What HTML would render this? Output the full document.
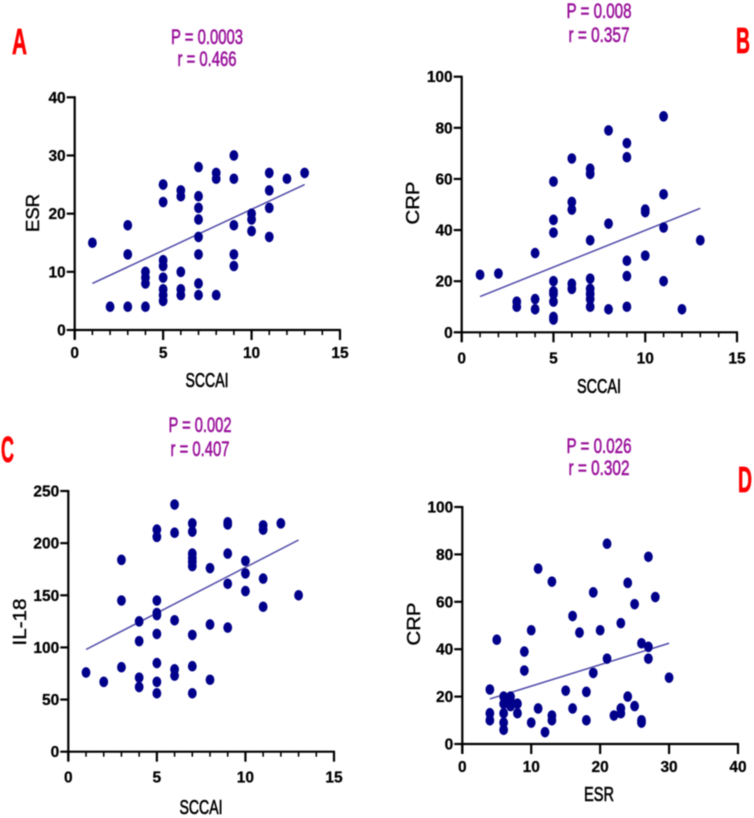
<!DOCTYPE html>
<html lang="en">
<head>
<meta charset="utf-8">
<title>Correlation scatter plots</title>
<style>
html,body{margin:0;padding:0;background:#fff;}
svg{display:block;font-family:"Liberation Sans",sans-serif;}
</style>
</head>
<body>
<svg id="figure" width="754" height="818" viewBox="0 0 754 818" xmlns="http://www.w3.org/2000/svg">
<defs><filter id="soft" x="-2%" y="-2%" width="104%" height="104%"><feGaussianBlur stdDeviation="0.4"/></filter></defs>
<g id="root" filter="url(#soft)">
<g font-weight="bold" font-size="36" fill="#ff0000" stroke="#ff0000" stroke-width="0.7">
<text x="12" y="54" textLength="15" lengthAdjust="spacingAndGlyphs">A</text>
<text x="736" y="53" textLength="14" lengthAdjust="spacingAndGlyphs">B</text>
<text x="1" y="462" textLength="13" lengthAdjust="spacingAndGlyphs">C</text>
<text x="738" y="492" textLength="14" lengthAdjust="spacingAndGlyphs">D</text>
</g>
<g font-size="21" fill="#98109a" stroke="#98109a" stroke-width="0.55" text-anchor="middle">
<text x="207" y="44" textLength="72" lengthAdjust="spacingAndGlyphs">P = 0.0003</text>
<text x="207" y="66" textLength="59" lengthAdjust="spacingAndGlyphs">r = 0.466</text>
<text x="599" y="18" textLength="65" lengthAdjust="spacingAndGlyphs">P = 0.008</text>
<text x="599" y="42" textLength="61" lengthAdjust="spacingAndGlyphs">r = 0.357</text>
<text x="200" y="432" textLength="63" lengthAdjust="spacingAndGlyphs">P = 0.002</text>
<text x="200" y="456" textLength="59" lengthAdjust="spacingAndGlyphs">r = 0.407</text>
<text x="599" y="453" textLength="65" lengthAdjust="spacingAndGlyphs">P = 0.026</text>
<text x="599" y="475" textLength="61" lengthAdjust="spacingAndGlyphs">r = 0.302</text>
</g>
</g>
</svg>
<script>
const aXValues = [1,2,3,3,3,4,4,4,4,5,5,5,5,5,5,5,5,5,6,6,6,6,6,7,7,7,7,7,7,7,7,8,8,8,9,9,9,9,9,10,10,10,11,11,11,11,12,13];
const aYValues = [15,4,18,13,4,10,9,8,4,25,25,22,12,11,9,7,6,5,24,23,10,7,6,28,23,21,19,16,13,8,6,27,26,6,30,26,18,13,11,20,19,17,27,24,21,16,26,27];
const aFitX = [1,13];
const aFitY = [8,25];
const aXTicks = [0,5,10,15];
const aYTicks = [0,10,20,30,40];

const bXValues = [1,2,3,3,4,4,4,5,5,5,5,5,5,5,5,5,6,6,6,6,6,7,7,7,7,7,7,7,7,8,8,8,9,9,9,9,9,10,10,10,11,11,11,11,12,13];
const bYValues = [22.5,23,12,10,31,13,9,59,44,39,20,16,15,12,6,5,68,51,48,19,17,64,62,36,21,17,15,13,10,79,42.5,9,74,68.5,28,22,10,48,47,30,84.5,54,41,20,9,36];
const bFitX = [1,13];
const bFitY = [14,48.5];
const bXTicks = [0,5,10,15];
const bYTicks = [0,20,40,60,80,100];

const cXValues = [1,2,3,3,3,4,4,4,4,5,5,5,5,5,5,5,5,5,6,6,6,6,6,7,7,7,7,7,7,7,7,7,8,8,8,9,9,9,9,9,10,10,10,11,11,11,11,12,13];
const cYValues = [76,67,184,145,81,125,106,71,62,213,206,145,133,131,113,85,67,56,237,210,126,79,73,219,211,190,186,182,178,112,82,56,176,122,69,220,218,190,161,119,183,171,154,217,213,166,139,219,150];
const cFitX = [1,13];
const cFitY = [98,203];
const cXTicks = [0,5,10,15];
const cYTicks = [0,50,100,150,200,250];

const dXValues = [4,4,4,5,6,6,6,6,6,7,7,7,8,8,9,9,10,10,11,11,12,13,13,13,15,16,16,17,18,18,19,19,20,21,21,22,23,23,23,24,24,25,25,26,26,26,27,27,27,28,30];
const dYValues = [23,13,10,44,20,17,13,9,6,20,18,16,17,13,39,31,48,9,74,15,5,68.5,12,10,22.5,54,15,47,22,10,64,30,48,84.5,36,12,51,15,13,68,20,59,16,42.5,10,9,79,41,36,62,28];
const dFitX = [4,30];
const dFitY = [19,42.5];
const dXTicks = [0,10,20,30,40];
const dYTicks = [0,20,40,60,80,100];

const SVG_NS = 'http://www.w3.org/2000/svg';
const root = document.getElementById('root');

function make(parent, tag, attrs, text) {
  const el = document.createElementNS(SVG_NS, tag);
  for (const key in attrs) el.setAttribute(key, attrs[key]);
  if (text !== undefined) el.textContent = text;
  parent.appendChild(el);
  return el;
}

function drawPanel(p) {
  const sx = v => p.x0 + (v - p.xTicks[0]) / (p.xTicks[p.xTicks.length - 1] - p.xTicks[0]) * (p.x1 - p.x0);
  const sy = v => p.y0 - (v - p.yTicks[0]) / (p.yTicks[p.yTicks.length - 1] - p.yTicks[0]) * (p.y0 - p.y1);

  const group = make(root, 'g', {});
  
  

  const fit = make(group, 'line', {x1: sx(p.fitX[0]), y1: sy(p.fitY[0]), x2: sx(p.fitX[1]), y2: sy(p.fitY[1]), stroke: '#4f4aa8', 'stroke-width': 1.5});
  
  

  p.xs.forEach((xv, i) => {
    const dot = make(group, 'ellipse', {cx: sx(xv), cy: sy(p.ys[i]), rx: 4.4, ry: 5.3, fill: '#00008b'});
    
    
  });

  const yAxis = make(group, 'line', {x1: p.x0, y1: p.y1 - 1, x2: p.x0, y2: p.y0 + 9, stroke: '#000', 'stroke-width': 2.2});
  
  
  const xAxis = make(group, 'line', {x1: p.x0 - 1, y1: p.y0, x2: p.x1 + 1, y2: p.y0, stroke: '#000', 'stroke-width': 2.2});
  
  

  const lastX = p.xTicks[p.xTicks.length - 1];
  const minorStep = (p.xTicks[1] - p.xTicks[0]) / p.minorDiv;
  for (let k = 1; k * minorStep < lastX; k++) {
    const tv = k * minorStep;
    if (k % p.minorDiv === 0) continue;
    const minor = make(group, 'line', {x1: sx(tv), y1: p.y0, x2: sx(tv), y2: p.y0 + 5, stroke: '#000', 'stroke-width': 1.6});
    
    
  }

  p.xTicks.forEach(v => {
    const tick = make(group, 'line', {x1: sx(v), y1: p.y0, x2: sx(v), y2: p.y0 + 10, stroke: '#000', 'stroke-width': 2.2});
    
    
    const label = make(group, 'text', {x: sx(v), y: p.y0 + p.xLabelGap, 'font-size': 15.5, 'font-weight': 'bold', 'text-anchor': 'middle', fill: '#000', stroke: '#000', 'stroke-width': 0.25}, String(v));
    
    
  });

  p.yTicks.forEach(v => {
    const tick = make(group, 'line', {x1: p.x0 - 8, y1: sy(v), x2: p.x0, y2: sy(v), stroke: '#000', 'stroke-width': 2.2});
    
    
    const label = make(group, 'text', {x: p.x0 - 9, y: sy(v) + 5.5, 'font-size': 15.5, 'font-weight': 'bold', 'text-anchor': 'end', fill: '#000', stroke: '#000', 'stroke-width': 0.25}, String(v));
    
    
  });

  const xTitle = make(group, 'text', {x: p.xTitleX, y: p.xTitleY, 'font-size': 20, 'text-anchor': 'middle', fill: '#000', stroke: '#000', 'stroke-width': 0.6, textLength: p.xTitleLen, lengthAdjust: 'spacingAndGlyphs'}, p.xTitle);
  
  

  const yTitle = make(group, 'text', {transform: 'translate(' + p.yTitleX + ' ' + p.yTitleY + ') rotate(-90)', 'font-size': 18, 'text-anchor': 'middle', fill: '#000', stroke: '#000', 'stroke-width': 0.4, textLength: p.yTitleLen, lengthAdjust: 'spacingAndGlyphs'}, p.yTitle);
  
  
}

drawPanel({id: 'a', xs: aXValues, ys: aYValues, fitX: aFitX, fitY: aFitY, xTicks: aXTicks, yTicks: aYTicks, minorDiv: 5,
  x0: 74.7, x1: 340, y0: 330, y1: 97.3, xLabelGap: 28,
  xTitle: 'SCCAI', xTitleX: 207, xTitleY: 387, xTitleLen: 43, yTitle: 'ESR', yTitleX: 39, yTitleY: 213, yTitleLen: 38});
drawPanel({id: 'b', xs: bXValues, ys: bYValues, fitX: bFitX, fitY: bFitY, xTicks: bXTicks, yTicks: bYTicks, minorDiv: 5,
  x0: 461.7, x1: 737, y0: 332.3, y1: 76.7, xLabelGap: 31,
  xTitle: 'SCCAI', xTitleX: 599, xTitleY: 393, xTitleLen: 44, yTitle: 'CRP', yTitleX: 419, yTitleY: 203, yTitleLen: 43});
drawPanel({id: 'c', xs: cXValues, ys: cYValues, fitX: cFitX, fitY: cFitY, xTicks: cXTicks, yTicks: cYTicks, minorDiv: 5,
  x0: 68.3, x1: 334, y0: 751.7, y1: 491, xLabelGap: 31,
  xTitle: 'SCCAI', xTitleX: 201, xTitleY: 814, xTitleLen: 43, yTitle: 'IL-18', yTitleX: 26, yTitleY: 622, yTitleLen: 47});
drawPanel({id: 'd', xs: dXValues, ys: dYValues, fitX: dFitX, fitY: dFitY, xTicks: dXTicks, yTicks: dYTicks, minorDiv: 1,
  x0: 462.3, x1: 738, y0: 744, y1: 507, xLabelGap: 28,
  xTitle: 'ESR', xTitleX: 599, xTitleY: 801, xTitleLen: 30, yTitle: 'CRP', yTitleX: 420, yTitleY: 624, yTitleLen: 43});
</script>
</body>
</html>
